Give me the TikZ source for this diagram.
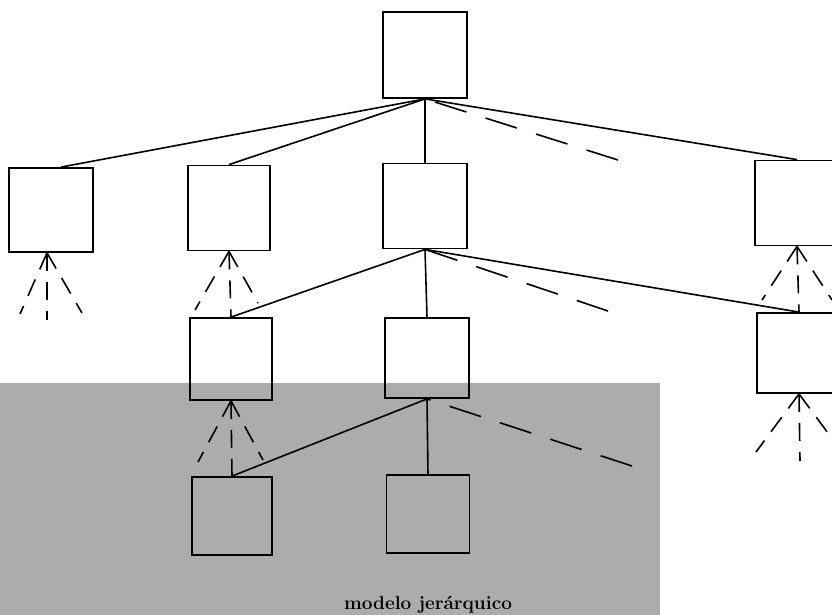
\documentclass[tikz,border=0pt]{standalone}
\begin{document}
\begin{tikzpicture}[x=1pt,y=-1pt,
  box/.style={draw=black, line width=1.8pt, inner sep=0pt, minimum width=84pt, minimum height=84pt},
  link/.style={line width=1.6pt},
  dlink/.style={line width=1.6pt, dash pattern=on 33pt off 20pt},
  fan/.style={line width=1.6pt, dash pattern=on 18pt off 11pt},
  lab/.style={font=\bfseries\fontsize{19}{22}\selectfont, anchor=base, inner sep=0pt}]
\useasboundingbox (0,0) rectangle (832,615);
\clip (0,0) rectangle (832,615);
\definecolor{panelgray}{RGB}{172,172,172}
\fill[panelgray] (0,383) rectangle (660,615);

% boxes
\node[box, minimum width=84pt, minimum height=86pt] (T) at (425,55) {};
\node[box, minimum width=84pt, minimum height=84pt] (A) at (51,210) {};
\node[box, minimum width=82pt, minimum height=85pt] (B) at (229,208) {};
\node[box, minimum width=84pt, minimum height=85pt] (C) at (425,206) {};
\node[box, minimum width=84pt, minimum height=85pt] (D) at (797,203) {};
\node[box, minimum width=82pt, minimum height=82pt] (E) at (231,359) {};
\node[box, minimum width=84pt, minimum height=80pt] (F) at (427,358) {};
\node[box, minimum width=84pt, minimum height=80pt] (G) at (799,353) {};
\node[box, minimum width=80pt, minimum height=78pt] (H) at (232,516) {};
\node[box, minimum width=83pt, minimum height=78pt] (I) at (428,514) {};

% free ends
\coordinate (d1) at (618,160);
\coordinate (d2) at (608,311);
\coordinate (d3) at (632,466);
\coordinate (aL) at (20,314);
\coordinate (aM) at (47,320);
\coordinate (aR) at (82,313);
\coordinate (bL) at (195,310);
\coordinate (bR) at (258,303);
\coordinate (dL) at (762,300);
\coordinate (dR) at (832,300);
\coordinate (eL) at (198,462);
\coordinate (eR) at (263,460);
\coordinate (gL) at (756,452);
\coordinate (gM) at (800,461);
\coordinate (gR) at (842,452);

% solid connectors
\draw[link] (T.south) -- ([xshift=10pt]A.north);
\draw[link] (T.south) -- (B.north);
\draw[link] (T.south) -- (C.north);
\draw[link] (T.south) -- (D.north);
\draw[link] (C.south) -- (E.north);
\draw[link] (C.south) -- (F.north);
\draw[link] (C.south) -- (G.north);
\draw[link] (F.south) -- (H.north);
\draw[link] (F.south) -- (I.north);

% dashed connectors
\draw[dlink] (d1) -- (T.south);
\draw[dlink] (d2) -- (C.south);
\draw[dlink] (d3) -- (F.south);

% dashed fans
\draw[fan] ([xshift=-4pt]A.south) -- (aL);
\draw[fan] ([xshift=-4pt]A.south) -- (aM);
\draw[fan] ([xshift=-4pt]A.south) -- (aR);
\draw[fan] (B.south) -- (bL);
\draw[fan] (B.south) -- (E.north);
\draw[fan] (B.south) -- (bR);
\draw[fan] (D.south) -- (dL);
\draw[fan] (D.south) -- (G.north);
\draw[fan] (D.south) -- (dR);
\draw[fan] (E.south) -- (eL);
\draw[fan] (E.south) -- (H.north);
\draw[fan] (E.south) -- (eR);
\draw[fan] (G.south) -- (gL);
\draw[fan] (G.south) -- (gM);
\draw[fan] (G.south) -- (gR);

\node[lab] (label) at (428,609) {modelo jer\'arquico};
\end{tikzpicture}
\end{document}
